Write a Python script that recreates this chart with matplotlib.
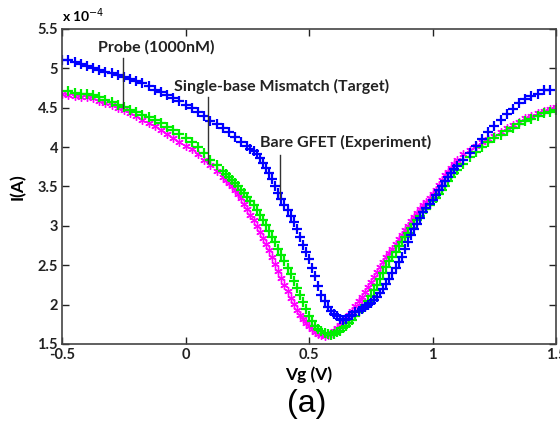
import matplotlib
matplotlib.use('Agg')
import matplotlib.pyplot as plt

# gate voltage (V): coarse part of the sweep, and a finer part through the dip
vg_left = [-0.500, -0.475, -0.450, -0.425, -0.400, -0.375, -0.350, -0.325, -0.300, -0.275,
           -0.250, -0.225, -0.200, -0.175, -0.150, -0.125, -0.100, -0.075, -0.050, -0.025,
           0.000, 0.025, 0.050, 0.075, 0.100, 0.125, 0.150, 0.175, 0.200, 0.225]
vg_mid = [0.150, 0.1625, 0.175, 0.1875, 0.200, 0.2125, 0.225, 0.2375,
          0.250, 0.2625, 0.275, 0.2875, 0.300, 0.3125, 0.325, 0.3375,
          0.350, 0.3625, 0.375, 0.3875, 0.400, 0.4125, 0.425, 0.4375,
          0.450, 0.4625, 0.475, 0.4875, 0.500, 0.5125, 0.525, 0.5375,
          0.550, 0.5625, 0.575, 0.5875, 0.600, 0.6125, 0.625, 0.6375,
          0.650, 0.6625, 0.675, 0.6875, 0.700, 0.7125, 0.725, 0.7375,
          0.750, 0.7625, 0.775, 0.7875, 0.800, 0.8125, 0.825, 0.8375,
          0.850, 0.8625, 0.875, 0.8875, 0.900, 0.9125, 0.925, 0.9375,
          0.950, 0.9625, 0.975, 0.9875, 1.000, 1.0125, 1.025, 1.0375,
          1.050, 1.0625, 1.075, 1.0875, 1.100]
vg_right = [1.125, 1.150, 1.175, 1.200, 1.225, 1.250, 1.275, 1.300, 1.325, 1.350,
            1.375, 1.400, 1.425, 1.450, 1.475, 1.500]

vg_blue = vg_left + vg_mid[8:] + vg_right[:15]
vg_green = vg_left[1:26] + vg_mid + vg_right
vg_magenta = vg_left[:26] + vg_mid + vg_right

# currents in units of 1e-4 A
i_blue = [5.11, 5.10, 5.08, 5.05, 5.03, 5.00, 4.98, 4.96, 4.94, 4.92,
          4.89, 4.87, 4.84, 4.81, 4.77, 4.73, 4.70, 4.66, 4.62, 4.58,
          4.54, 4.50, 4.45, 4.39, 4.33, 4.29, 4.24, 4.19, 4.13, 4.07,
          4.01, 3.98, 3.95, 3.91, 3.86, 3.80, 3.74, 3.67,
          3.60, 3.51, 3.42, 3.34, 3.27, 3.20, 3.13, 3.05,
          2.96, 2.86, 2.76, 2.67, 2.58, 2.47, 2.36, 2.24,
          2.12, 2.04, 1.97, 1.92, 1.88, 1.85, 1.82, 1.81,
          1.82, 1.85, 1.87, 1.90, 1.92, 1.95, 1.97, 2.00,
          2.02, 2.06, 2.10, 2.15, 2.20, 2.26, 2.33, 2.40,
          2.47, 2.54, 2.61, 2.70, 2.79, 2.88, 2.96, 3.03,
          3.10, 3.17, 3.23, 3.28, 3.33, 3.39, 3.45, 3.51,
          3.57, 3.62, 3.67, 3.72, 3.76,
          3.84, 3.92, 4.01, 4.10, 4.19, 4.27, 4.35, 4.42, 4.49, 4.56,
          4.61, 4.65, 4.68, 4.72, 4.73]

i_green = [4.71, 4.69, 4.68, 4.67, 4.66, 4.63, 4.60, 4.57, 4.54,
           4.51, 4.47, 4.44, 4.41, 4.38, 4.34, 4.30, 4.26, 4.22, 4.17,
           4.12, 4.06, 4.00, 3.92, 3.84, 3.77,
           3.70, 3.66, 3.62, 3.58, 3.54, 3.50, 3.46, 3.42,
           3.37, 3.32, 3.26, 3.20, 3.14, 3.08, 3.01, 2.94,
           2.86, 2.79, 2.71, 2.63, 2.55, 2.47, 2.39, 2.30,
           2.21, 2.12, 2.03, 1.94, 1.86, 1.79, 1.73, 1.69,
           1.66, 1.64, 1.63, 1.62, 1.63, 1.65, 1.67, 1.70,
           1.73, 1.77, 1.81, 1.86, 1.91, 1.95, 2.00, 2.05,
           2.11, 2.18, 2.25, 2.32, 2.40, 2.48, 2.55, 2.61,
           2.67, 2.74, 2.80, 2.86, 2.91, 2.97, 3.03, 3.08,
           3.12, 3.17, 3.22, 3.26, 3.31, 3.35, 3.40, 3.46,
           3.51, 3.57, 3.62, 3.67, 3.71,
           3.79, 3.87, 3.94, 4.00, 4.06, 4.11, 4.16, 4.20, 4.24, 4.29,
           4.33, 4.36, 4.40, 4.43, 4.45, 4.47]

i_magenta = [4.67, 4.66, 4.65, 4.64, 4.63, 4.62, 4.59, 4.56, 4.53, 4.50,
             4.47, 4.43, 4.39, 4.35, 4.31, 4.27, 4.22, 4.17, 4.12, 4.07,
             4.02, 3.97, 3.91, 3.84, 3.77, 3.70,
             3.62, 3.58, 3.54, 3.50, 3.45, 3.40, 3.35, 3.28,
             3.21, 3.14, 3.07, 3.00, 2.92, 2.85, 2.77, 2.69,
             2.60, 2.52, 2.43, 2.34, 2.25, 2.17, 2.09, 2.01,
             1.93, 1.87, 1.82, 1.77, 1.73, 1.69, 1.65, 1.63,
             1.61, 1.60, 1.61, 1.64, 1.67, 1.70, 1.74, 1.78,
             1.82, 1.87, 1.92, 1.98, 2.04, 2.10, 2.16, 2.22,
             2.29, 2.35, 2.42, 2.48, 2.54, 2.60, 2.65, 2.71,
             2.77, 2.83, 2.89, 2.95, 3.00, 3.06, 3.11, 3.16,
             3.21, 3.26, 3.30, 3.35, 3.40, 3.46, 3.52, 3.58,
             3.64, 3.69, 3.74, 3.79, 3.84,
             3.91, 3.96, 4.02, 4.06, 4.10, 4.14, 4.19, 4.24, 4.28, 4.32,
             4.37, 4.40, 4.43, 4.46, 4.49, 4.51]

# annotation text, x of pointer line, pointer y range, text position
labels = ['Probe (1000nM)', 'Single-base Mismatch (Target)', 'Bare GFET (Experiment)']
label_x = [-0.253, 0.092, 0.381]
line_top = [5.13, 4.64, 3.90]
line_bot = [4.50, 3.80, 3.35]
text_x = [-0.12, 0.39, 0.647]
text_y = [5.17, 4.68, 3.96]

xticks = [-0.5, 0, 0.5, 1, 1.5]
yticks = [1.5, 2, 2.5, 3, 3.5, 4, 4.5, 5, 5.5]

plt.rcParams['font.family'] = ['Lato', 'DejaVu Sans']

fig = plt.figure(figsize=(5.6, 4.25), dpi=100)
ax = fig.add_axes([0.111, 0.1906, 0.882, 0.7412])

ax.plot(vg_magenta, i_magenta, linestyle='none', marker=(6, 2, 0), color='#ff00ff',
        markersize=6, markeredgewidth=1.0)
ax.plot(vg_green, i_green, '+', color='#00ee00', markersize=7, markeredgewidth=1.6, linestyle='none')
ax.plot(vg_blue, i_blue, '+', color='#0000ff', markersize=7, markeredgewidth=1.6, linestyle='none')

for t, lx, lt, lb, tx, ty in zip(labels, label_x, line_top, line_bot, text_x, text_y):
  ax.plot([lx, lx], [lt, lb], color='#333333', linewidth=1)
  ax.text(tx, ty, t, ha='center', va='bottom', fontsize=11.5, fontweight='bold', color='#222222')

ax.set_xlim(-0.5, 1.5)
ax.set_ylim(1.5, 5.5)
ax.set_xticks(xticks)
ax.set_xticklabels(['%g' % v for v in xticks], fontweight='bold', fontsize=10.5)
ax.set_yticks(yticks)
ax.set_yticklabels(['%g' % v for v in yticks], fontweight='bold', fontsize=10.5)
ax.tick_params(direction='in', top=True, right=True, length=5, width=1, colors='#222222', pad=3)
for s in ax.spines.values():
  s.set_color('#444444')
  s.set_linewidth(1.2)

ax.set_xlabel('Vg (V)', fontsize=12.5, fontweight='bold', labelpad=3)
ax.set_ylabel('I(A)', fontsize=12.5, fontweight='bold', labelpad=8)
ax.text(0.0, 1.012, r'x 10$^{-4}$', transform=ax.transAxes, fontsize=10, fontweight='bold', va='bottom')

fig.text(0.548, 0.015, '(a)', ha='center', va='bottom', fontsize=23, family='Liberation Sans')

fig.savefig('out.png', dpi=100)
